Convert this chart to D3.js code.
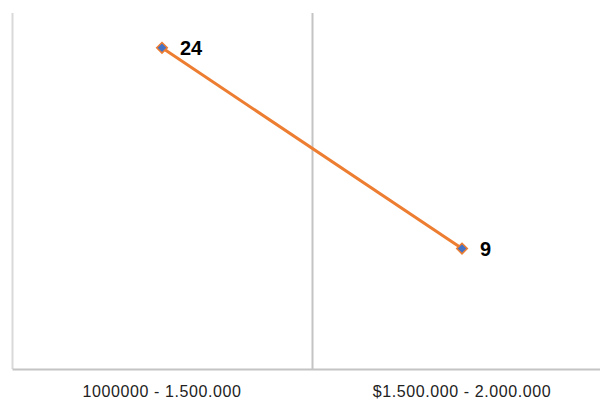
<!DOCTYPE html>
<html>
<head>
<meta charset="utf-8">
<script src="https://cdn.jsdelivr.net/npm/d3@7"></script>
<style>
  body { margin: 0; background: #fff; }
  svg { display: block; font-family: "Liberation Sans", Arial, sans-serif; }
</style>
</head>
<body>
<svg id="chart" width="600" height="400"></svg>
<script>
var categories = ["1000000 - 1.500.000", "$1.500.000 - 2.000.000"];
var values = [24, 9];

var svg = d3.select("#chart");
var plotLeft = 12, plotTop = 13, plotBottom = 369;

// the plot runs past the right edge of the picture, each band is 300px
var x = d3.scaleBand()
    .domain(categories)
    .range([plotLeft, plotLeft + 600]);

var y = d3.scaleLinear()
    .domain([0, 26.6])
    .range([plotBottom, plotTop]);

// divider between the two categories
svg.append("line")
    .attr("x1", x(categories[1]) + 0.5)
    .attr("x2", x(categories[1]) + 0.5)
    .attr("y1", plotTop)
    .attr("y2", plotBottom)
    .attr("stroke", "#c4c4c4")
    .attr("stroke-width", 2);

// left axis line
svg.append("line")
    .attr("x1", plotLeft + 0.5)
    .attr("x2", plotLeft + 0.5)
    .attr("y1", plotTop)
    .attr("y2", plotBottom)
    .attr("stroke", "#d9d9d9")
    .attr("stroke-width", 2);

var xAxis = svg.append("g")
    .attr("transform", "translate(0," + plotBottom + ")")
    .call(d3.axisBottom(x).tickSize(0).tickPadding(17));
xAxis.select(".domain").attr("stroke", "#c4c4c4").attr("stroke-width", 2);
xAxis.selectAll("text")
    .attr("font-size", 16)
    .attr("letter-spacing", "0.6px")
    .attr("fill", "#222")
    .attr("font-family", "'Liberation Sans', Arial, sans-serif");

var pts = categories.map(function(c, i){ return {c: c, v: values[i]}; });

var lineFunc = d3.line()
    .x(function(d){ return x(d.c) + x.bandwidth() / 2; })
    .y(function(d){ return y(d.v); });

svg.append("path")
    .attr("d", lineFunc(pts))
    .attr("fill", "none")
    .attr("stroke", "#ED7D31")
    .attr("stroke-width", 3);

svg.selectAll(".marker")
    .data(pts)
    .enter().append("path")
    .attr("class", "marker")
    .attr("d", d3.symbol().type(d3.symbolDiamond2).size(72))
    .attr("transform", function(d){ return "translate(" + (x(d.c) + x.bandwidth() / 2) + "," + y(d.v) + ")"; })
    .attr("fill", "#4472C4")
    .attr("stroke", "#ED7D31")
    .attr("stroke-width", 1.5);

svg.selectAll(".lbl")
    .data(pts)
    .enter().append("text")
    .attr("class", "lbl")
    .attr("x", function(d){ return x(d.c) + x.bandwidth() / 2 + 18; })
    .attr("y", function(d){ return y(d.v) + 7; })
    .attr("font-size", 20)
    .attr("font-weight", "bold")
    .attr("fill", "#000")
    .text(function(d){ return d.v; });
</script>
</body>
</html>
